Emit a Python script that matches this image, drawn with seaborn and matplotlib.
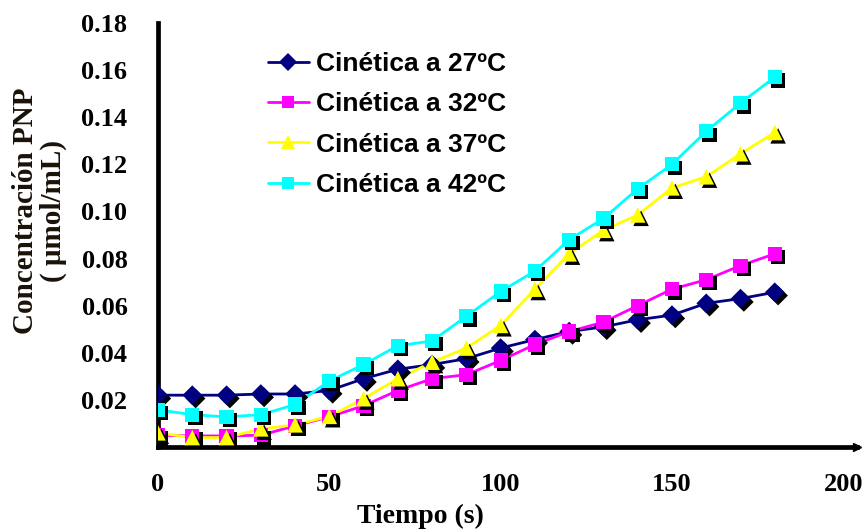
import numpy as np
import pandas as pd
import matplotlib
matplotlib.use("Agg")
import matplotlib.pyplot as plt
import matplotlib.patheffects as pe
from matplotlib.lines import Line2D
import seaborn as sns

# ---- data ----
tiempo = [0, 10, 20, 30, 40, 50, 60, 70, 80, 90, 100, 110, 120, 130, 140, 150, 160, 170, 180]
c27 = [0.022, 0.022, 0.022, 0.0225, 0.0225, 0.024, 0.029, 0.033, 0.035, 0.0375, 0.042,
       0.0456, 0.049, 0.051, 0.054, 0.056, 0.061, 0.063, 0.0657]
c32 = [0.005, 0.0047, 0.0047, 0.005, 0.009, 0.0128, 0.0175, 0.024, 0.029, 0.0307, 0.0367,
       0.0435, 0.049, 0.053, 0.060, 0.067, 0.071, 0.077, 0.082]
c37 = [0.006, 0.004, 0.004, 0.0077, 0.0094, 0.013, 0.0205, 0.029, 0.036, 0.042, 0.0516,
       0.067, 0.082, 0.092, 0.0985, 0.110, 0.1147, 0.1245, 0.1335]
c42 = [0.0158, 0.0137, 0.0128, 0.0137, 0.018, 0.028, 0.035, 0.043, 0.045, 0.0555, 0.066,
       0.0747, 0.088, 0.097, 0.1096, 0.120, 0.134, 0.146, 0.157]
series_names = ["Cinética a 27ºC", "Cinética a 32ºC", "Cinética a 37ºC", "Cinética a 42ºC"]
series_vals = [c27, c32, c37, c42]
colors = ["#000080", "#FF00FF", "#FFFF00", "#00FFFF"]
markers = ["D", "s", "^", "s"]
msizes = [100, 105, 125, 105]
x_ticks = [0, 50, 100, 150, 200]
y_ticks = [0.02, 0.04, 0.06, 0.08, 0.10, 0.12, 0.14, 0.16, 0.18]
y_ticklabels = ["0.02", "0.04", "0.06", "0.08", "0.10", "0.12", "0.14", "0.16", "0.18"]

df = pd.DataFrame({
    "Tiempo": np.tile(tiempo, len(series_names)),
    "Conc": np.concatenate(series_vals),
    "Serie": np.repeat(series_names, len(tiempo)),
})

sns.set_style("white")
plt.rcParams["font.family"] = ["DejaVu Sans"]
plt.rcParams["text.color"] = "black"

fig = plt.figure(figsize=(8.66, 5.29), dpi=100)
ax = fig.add_axes([158 / 866, 82 / 529, 699 / 866, 424 / 529])

palette = dict(zip(series_names, colors))
sns.lineplot(data=df, x="Tiempo", y="Conc", hue="Serie", palette=palette,
             linewidth=2.0, legend=False, ax=ax, zorder=2)
shadow = [pe.SimplePatchShadow(offset=(2.4, -2.4), shadow_rgbFace="black", alpha=1.0), pe.Normal()]
for name, mk, ms in zip(series_names, markers, msizes):
    sub = df[df["Serie"] == name]
    sns.scatterplot(data=sub, x="Tiempo", y="Conc", color=palette[name], marker=mk,
                    s=ms, linewidth=0, legend=False, ax=ax, zorder=3)
    ax.collections[-1].set_path_effects(shadow)

ax.set_xlim(0, 204)
ax.set_ylim(0, 0.18)
ax.set_xticks(x_ticks)
ax.set_xticklabels([str(t) for t in x_ticks])
ax.set_yticks(y_ticks)
ax.set_yticklabels(y_ticklabels)

for s in ["top", "right"]:
    ax.spines[s].set_visible(False)
for s in ["left", "bottom"]:
    ax.spines[s].set_linewidth(3.4)
    ax.spines[s].set_color("black")
# small arrow head at the end of the x axis
ax.plot([1.0], [0.0], marker=">", color="black", markersize=6, transform=ax.transAxes,
        clip_on=False, zorder=5)

ax.tick_params(axis="both", which="major", direction="out", length=3, width=1.5,
               color="#2e8b2e", labelcolor="black")
ax.tick_params(axis="y", pad=19)
ax.tick_params(axis="x", pad=16)
for lab in ax.get_xticklabels() + ax.get_yticklabels():
    lab.set_fontfamily("Liberation Serif")
    lab.set_fontweight("bold")
    lab.set_fontsize(19)

ax.set_xlabel("Tiempo (s)", fontfamily="Liberation Serif", fontweight="bold", fontsize=20,
              color="black")
ax.xaxis.set_label_coords(0.375, -0.135)
ax.set_ylabel("Concentración PNP\n( μmol/mL)", fontfamily="Liberation Serif",
              fontweight="bold", fontsize=21, linespacing=1.05, color="#1a1208")
ax.yaxis.set_label_coords(-0.13, 0.557)

handles = [Line2D([0], [0], color=c, marker=m, markersize=9 if m != "^" else 10,
                  markeredgewidth=0, linewidth=2.0) for c, m in zip(colors, markers)]
leg = ax.legend(handles, series_names, loc="upper left", bbox_to_anchor=(0.157, 0.932),
                frameon=False, handlelength=1.55, handletextpad=0.27, labelspacing=0.62,
                borderpad=0, borderaxespad=0,
                prop={"family": "Liberation Sans", "weight": "bold", "size": 19})
for t in leg.get_texts():
    t.set_color("black")

fig.savefig("out.png", dpi=100)
